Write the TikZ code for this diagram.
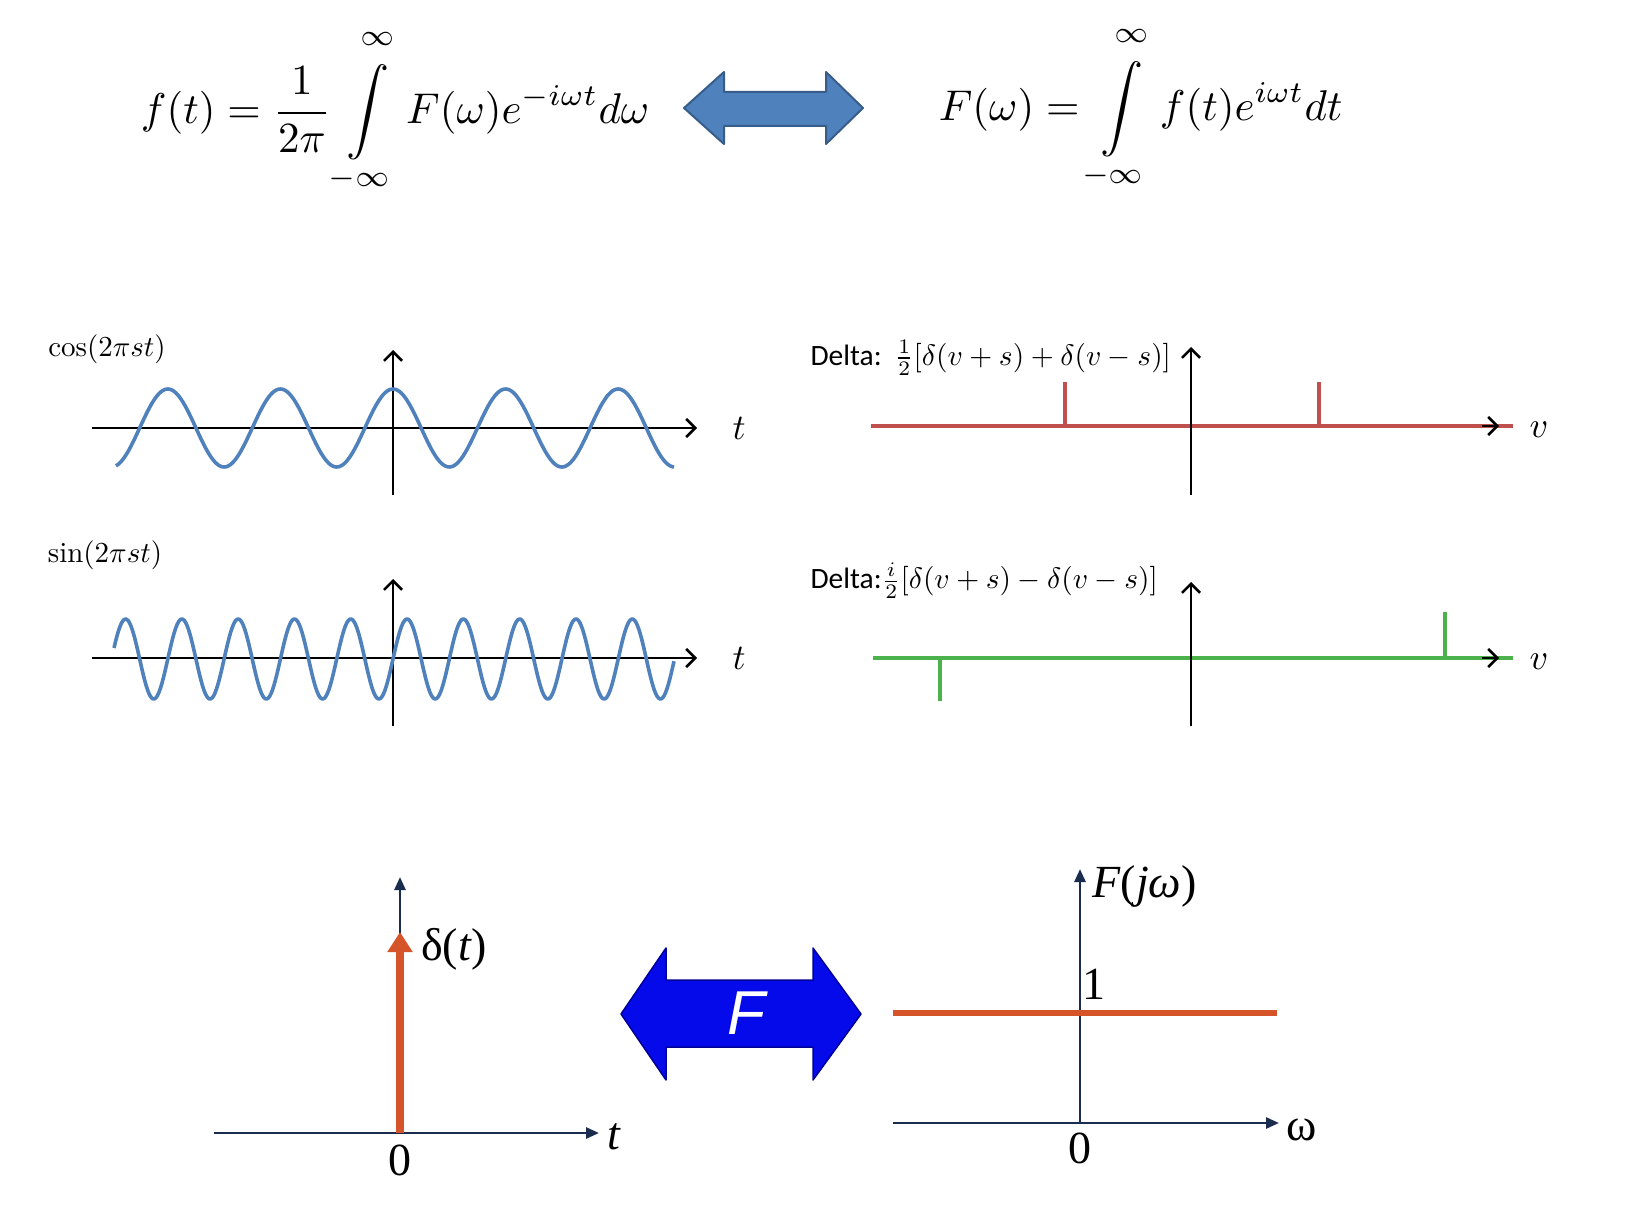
\documentclass[tikz,border=0pt]{standalone}
\usepackage{fontspec}
\usetikzlibrary{arrows.meta}
\newfontfamily\carlito{Carlito}
\newfontfamily\lserif{Liberation Serif}
\newfontfamily\lsans{Liberation Sans}
\definecolor{wave}{RGB}{79,129,189}
\definecolor{wavedark}{RGB}{56,93,138}
\definecolor{spikered}{RGB}{192,80,77}
\definecolor{spikegreen}{RGB}{76,178,76}
\definecolor{navy}{RGB}{27,45,78}
\definecolor{orangered}{RGB}{214,84,42}
\definecolor{fblue}{RGB}{5,10,235}
\tikzset{
  ax/.style={black, line width=2.6pt, -{Straight Barb[length=9pt,width=18pt,line width=2.6pt]}},
  wavestyle/.style={wave, line width=3.6pt, line join=round},
  spike/.style={line width=3.2pt},
  navyax/.style={navy, line width=2.6pt, -{Triangle[length=13pt,width=11pt]}},
  bigeq/.style={inner sep=0pt, scale=4.3},
  midlbl/.style={inner sep=0pt, scale=2.9},
  axlbl/.style={inner sep=0pt, scale=3.6},
  dlbl/.style={inner sep=0pt, scale=2.95, anchor=west},
  serlbl/.style={font=\fontsize{46}{54}\selectfont\lserif, inner sep=0pt},
}
\begin{document}
\begin{tikzpicture}[x=1pt,y=-1pt]
\fill[white] (0,0) rectangle (1650,1228);
\useasboundingbox (0,0) rectangle (1650,1228);

% ---------- top equations ----------
\node[bigeq, anchor=west] (eqL) at (140,111)
  {$\displaystyle f(t)=\frac{1}{2\pi}\int\limits_{\rule{0pt}{4pt}-\infty}^{\infty\rule[-3.5pt]{0pt}{0pt}}F(\omega)e^{-i\omega t}d\omega$};
\node[bigeq, anchor=west] (eqR) at (938,108)
  {$\displaystyle F(\omega)=\int\limits_{\rule{0pt}{4pt}-\infty}^{\infty\rule[-3.5pt]{0pt}{0pt}}f(t)e^{i\omega t}dt$};

% top double arrow
\coordinate (ta1) at (684,108);
\fill[wave, draw=wavedark, line width=2pt, line join=round]
  (ta1) -- (724,72) -- (724,92) -- (826,92) -- (826,72) -- (863,108)
  -- (826,144) -- (826,126) -- (724,126) -- (724,144) -- cycle;

% ---------- cos panel ----------
\coordinate (c1L) at (92,428);
\coordinate (c1R) at (697,428);
\coordinate (c1B) at (393,495);
\coordinate (c1T) at (393,350);
\draw[ax] (c1L) -- (c1R);
\draw[ax] (c1B) -- (c1T);
\draw[wavestyle] plot[domain=116:674, samples=300] (\x,{428-39*cos(3.1972*(\x-393))});
\node[midlbl] (coslbl) at (107,349) {$\cos(2\pi st)$};
\node[axlbl] (t1) at (739,428) {$t$};

% ---------- sin panel ----------
\coordinate (s1L) at (92,658);
\coordinate (s1R) at (697,658);
\coordinate (s1B) at (393,726);
\coordinate (s1T) at (393,579);
\draw[ax] (s1L) -- (s1R);
\draw[ax] (s1B) -- (s1T);
\draw[wavestyle] plot[domain=114:674, samples=400] (\x,{659-40*sin(6.3943*(\x-393))});
\node[midlbl] (sinlbl) at (105,555) {$\sin(2\pi st)$};
\node[axlbl] (t2) at (739,658) {$t$};

% ---------- delta panel 1 ----------
\coordinate (d1L) at (871,426);
\coordinate (d1E) at (1513,426);
\coordinate (d1S) at (1482,426);
\coordinate (d1R) at (1499,426);
\coordinate (d1B) at (1191,495);
\coordinate (d1T) at (1191,347);
\draw[spikered, line width=4.5pt] (d1L) -- (d1E);
\draw[ax] (d1S) -- (d1R);
\draw[ax] (d1B) -- (d1T);
\coordinate (p1a) at (1065,426); \coordinate (p1b) at (1065,382);
\coordinate (p2a) at (1319,426); \coordinate (p2b) at (1319,382);
\draw[spikered, spike] (p1a) -- (p1b);
\draw[spikered, spike] (p2a) -- (p2b);
\node[dlbl] (dl1) at (810,358) {{\carlito Delta:} $\frac{1}{2}[\delta(v+s)+\delta(v-s)]$};
\node[axlbl] (v1) at (1539,430) {$v$};

% ---------- delta panel 2 ----------
\coordinate (d2L) at (873,658);
\coordinate (d2E) at (1513,658);
\coordinate (d2S) at (1482,658);
\coordinate (d2R) at (1499,658);
\coordinate (d2B) at (1191,726);
\coordinate (d2T) at (1191,582);
\draw[spikegreen, line width=4.5pt] (d2L) -- (d2E);
\draw[ax] (d2S) -- (d2R);
\draw[ax] (d2B) -- (d2T);
\coordinate (q1a) at (940,658); \coordinate (q1b) at (940,701);
\coordinate (q2a) at (1445,658); \coordinate (q2b) at (1445,612);
\draw[spikegreen, spike] (q1a) -- (q1b);
\draw[spikegreen, spike] (q2a) -- (q2b);
\node[dlbl] (dl2) at (810,581) {{\carlito Delta:}$\frac{i}{2}[\delta(v+s)-\delta(v-s)]$};
\node[axlbl] (v2) at (1539,662) {$v$};

% ---------- bottom left: delta(t) ----------
\coordinate (b1L) at (214,1133);
\coordinate (b1R) at (599,1133);
\coordinate (b1O) at (400,1133);
\coordinate (b1T) at (400,877);
\coordinate (b1D) at (400,932);
\draw[navyax] (b1L) -- (b1R);
\draw[navyax] (b1O) -- (b1T);
\draw[orangered, line width=8pt, -{Triangle[length=20pt,width=24pt]}] (b1O) -- (b1D);
\node[serlbl, anchor=west] (dlt) at (421,949) {δ(\textit{t})};
\node[serlbl] (z1) at (400,1160) {0};
\node[serlbl] (tb) at (614,1137) {\textit{t}};

% ---------- bottom F double arrow ----------
\fill[fblue, draw=blue!60!black, line width=1.5pt, line join=round]
  (621,1014) -- (666,948) -- (666,980) -- (813,980) -- (813,948) -- (861,1014)
  -- (813,1080) -- (813,1047) -- (666,1047) -- (666,1080) -- cycle;
\node[font=\fontsize{62}{70}\selectfont\lsans\itshape, white, inner sep=0pt] (F) at (746,1013) {F};

% ---------- bottom right: F(jw) ----------
\coordinate (b2L) at (893,1123);
\coordinate (b2R) at (1279,1123);
\coordinate (b2O) at (1080,1123);
\coordinate (b2T) at (1080,869);
\coordinate (h1) at (893,1013);
\coordinate (h2) at (1277,1013);
\draw[navyax] (b2L) -- (b2R);
\draw[navyax] (b2O) -- (b2T);
\draw[orangered, line width=6pt] (h1) -- (h2);
\node[serlbl] (one) at (1094,984) {1};
\node[serlbl, anchor=west] (Fjw) at (1092,886) {\textit{F}(\textit{jω})};
\node[serlbl] (z2) at (1080,1148) {0};
\node[serlbl] (wl) at (1302,1130) {ω};
\end{tikzpicture}
\end{document}
